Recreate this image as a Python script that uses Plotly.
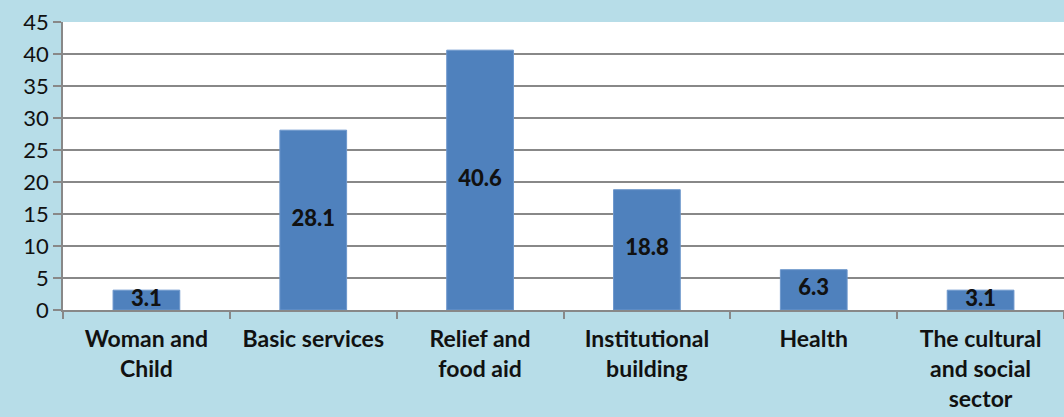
import plotly.graph_objects as go

categories = ["Woman and<br>Child", "Basic services", "Relief and<br>food aid",
              "Institutional<br>building", "Health", "The cultural<br>and social<br>sector"]
values = [3.1, 28.1, 40.6, 18.8, 6.3, 3.1]
labels = ["3.1", "28.1", "40.6", "18.8", "6.3", "3.1"]

FONT = "Lato"
fig = go.Figure()
fig.add_trace(go.Bar(x=categories, y=values, width=0.4,
                     marker=dict(color="#4F81BD", line=dict(color="#6D97CC", width=1)),
                     hoverinfo="skip"))
fig.add_trace(go.Scatter(x=categories, y=[v / 2 for v in values], mode="text",
                         text=labels, textposition="middle center",
                         textfont=dict(family=FONT, size=22, color="#111111", weight=900),
                         hoverinfo="skip", cliponaxis=False))
fig.update_layout(
    width=1064, height=417, showlegend=False,
    paper_bgcolor="#B7DDE8", plot_bgcolor="#FFFFFF",
    margin=dict(l=63, r=0, t=22, b=107),
    font=dict(family=FONT, color="#111111"),
)
fig.update_yaxes(range=[0, 45], dtick=5, showgrid=True, gridcolor="#888888", gridwidth=1.5,
                 showline=True, linecolor="#888888", linewidth=1.5,
                 ticks="outside", ticklen=8, tickcolor="#888888", tickwidth=1.5,
                 tickfont=dict(family=FONT, size=22, color="#111111"), zeroline=False)
fig.update_xaxes(showline=True, linecolor="#888888", linewidth=1.5,
                 ticks="outside", ticklen=7, tickcolor="#888888", tickwidth=1.5,
                 tickson="boundaries", ticklabelstandoff=8,
                 tickfont=dict(family=FONT, size=23, color="#111111", weight="bold"))
fig.write_html("out.html", config={"displayModeBar": False},
               post_script="document.body.style.margin='0';document.body.style.padding='0';")
